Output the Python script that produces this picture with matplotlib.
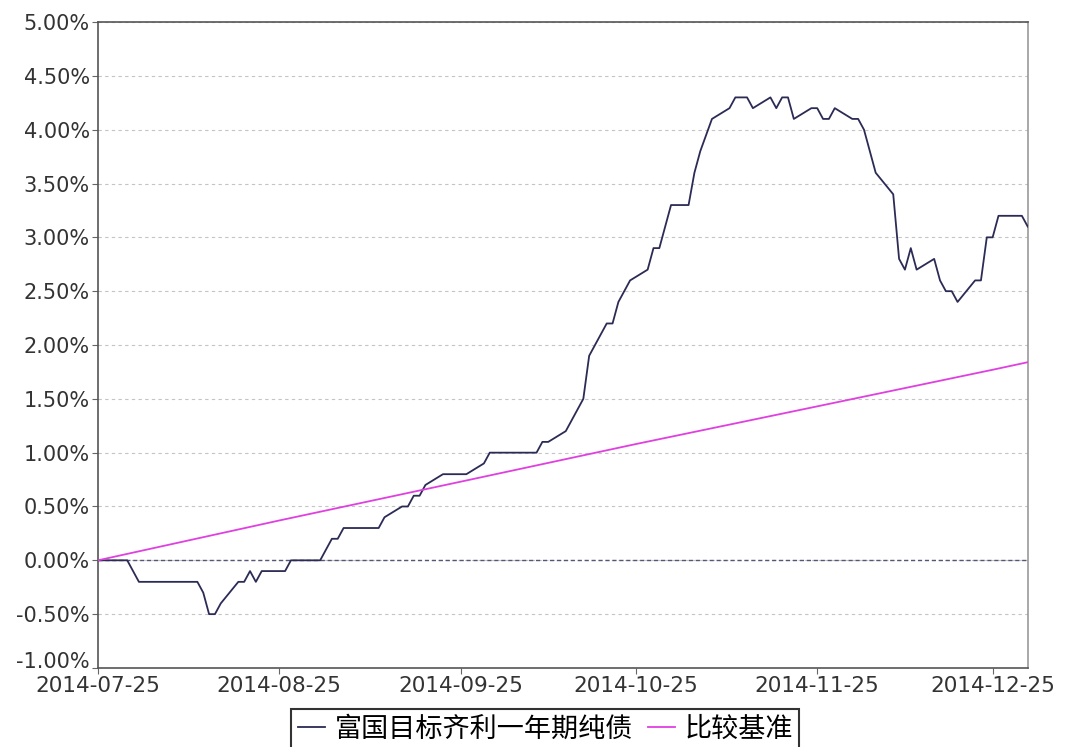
import numpy as np
import pandas as pd
import matplotlib
matplotlib.use("Agg")
from matplotlib import pyplot as plt
import matplotlib.dates as mdates
from matplotlib.ticker import FuncFormatter, MultipleLocator


# fund cumulative return (%)
fund_dates = [
    "2014-07-25", "2014-07-30", "2014-08-01", "2014-08-11", "2014-08-12",
    "2014-08-13", "2014-08-14", "2014-08-15", "2014-08-18", "2014-08-19",
    "2014-08-20", "2014-08-21", "2014-08-22", "2014-08-26", "2014-08-27",
    "2014-09-01", "2014-09-03", "2014-09-04", "2014-09-05", "2014-09-11",
    "2014-09-12", "2014-09-15", "2014-09-16", "2014-09-17", "2014-09-18",
    "2014-09-19", "2014-09-22", "2014-09-26", "2014-09-29", "2014-09-30",
    "2014-10-08", "2014-10-09", "2014-10-10", "2014-10-13", "2014-10-16",
    "2014-10-17", "2014-10-18", "2014-10-20", "2014-10-21", "2014-10-22",
    "2014-10-24", "2014-10-27", "2014-10-28", "2014-10-29", "2014-10-31",
    "2014-11-03", "2014-11-04", "2014-11-05", "2014-11-07", "2014-11-10",
    "2014-11-11", "2014-11-13", "2014-11-14", "2014-11-17", "2014-11-18",
    "2014-11-19", "2014-11-20", "2014-11-21", "2014-11-24", "2014-11-25",
    "2014-11-26", "2014-11-27", "2014-11-28", "2014-12-01", "2014-12-02",
    "2014-12-03", "2014-12-05", "2014-12-08", "2014-12-09", "2014-12-10",
    "2014-12-11", "2014-12-12", "2014-12-15", "2014-12-16", "2014-12-17",
    "2014-12-18", "2014-12-19", "2014-12-22", "2014-12-23", "2014-12-24",
    "2014-12-25", "2014-12-26", "2014-12-30", "2014-12-31",
]
fund_values = [
    0.0, 0.0, -0.2, -0.2, -0.3,
    -0.5, -0.5, -0.4, -0.2, -0.2,
    -0.1, -0.2, -0.1, -0.1, 0.0,
    0.0, 0.2, 0.2, 0.3, 0.3,
    0.4, 0.5, 0.5, 0.6, 0.6,
    0.7, 0.8, 0.8, 0.9, 1.0,
    1.0, 1.1, 1.1, 1.2, 1.5,
    1.9, 2.0, 2.2, 2.2, 2.4,
    2.6, 2.7, 2.9, 2.9, 3.3,
    3.3, 3.6, 3.8, 4.1, 4.2,
    4.3, 4.3, 4.2, 4.3, 4.2,
    4.3, 4.3, 4.1, 4.2, 4.2,
    4.1, 4.1, 4.2, 4.1, 4.1,
    4.0, 3.6, 3.4, 2.8, 2.7,
    2.9, 2.7, 2.8, 2.6, 2.5,
    2.5, 2.4, 2.6, 2.6, 3.0,
    3.0, 3.2, 3.2, 3.1,
]

# benchmark (%)
bench_dates = ["2014-07-25", "2014-08-25", "2014-09-25", "2014-10-25",
               "2014-11-25", "2014-12-25", "2014-12-31"]
bench_values = [0.0, 0.37, 0.73, 1.08, 1.43, 1.77, 1.84]

tick_dates = ["2014-07-25", "2014-08-25", "2014-09-25", "2014-10-25",
              "2014-11-25", "2014-12-25"]

fund_name = "富国目标齐利一年期纯债"
bench_name = "比较基准"

fund_x = pd.to_datetime(fund_dates)
bench_x = pd.to_datetime(bench_dates)

fig = plt.figure(figsize=(10.65, 7.47), dpi=100, facecolor='w')
ax = fig.add_axes([0.092, 0.1058, 0.873, 0.8647])

ax.plot(fund_x, fund_values, color='#2b2b55', linewidth=1.3, label=fund_name, zorder=3)
ax.plot(bench_x, bench_values, color='#e040e0', linewidth=1.3, label=bench_name, zorder=3)

ax.set_xlim(pd.Timestamp("2014-07-25"), pd.Timestamp("2014-12-31"))
ax.set_ylim(-1.0, 5.0)
ax.yaxis.set_major_locator(MultipleLocator(0.5))
ax.yaxis.set_major_formatter(FuncFormatter(lambda v, p: f"{v:.2f}%"))
ax.set_xticks(pd.to_datetime(tick_dates))
ax.xaxis.set_major_formatter(mdates.DateFormatter("%Y-%m-%d"))

ax.grid(axis='y', color='#c4c4c4', linestyle=(0, (3, 3)), linewidth=0.8)
ax.axhline(0, color='#555577', linestyle=(0, (3, 2)), linewidth=1.0, zorder=2)

ax.tick_params(axis='x', labelsize=15.5, pad=2)
ax.tick_params(axis='y', labelsize=15, pad=2)
ax.tick_params(axis='both', labelcolor='#333333', color='#666666',
               length=4, direction='out')
for side in ['left', 'bottom', 'top']:
    ax.spines[side].set_color('#555555')
ax.spines['right'].set_color('#999999')
for s in ax.spines.values():
    s.set_linewidth(1.2)

# the lowest y label sits a little higher, clear of the first date label
fig.canvas.draw()
for lab in ax.get_yticklabels():
    if lab.get_text().startswith("-1.00"):
        lab.set_verticalalignment('baseline')

leg = fig.legend(loc='upper center', bbox_to_anchor=(0.512, 0.0509), ncol=2,
                 prop={'family': ['Noto Sans CJK SC', 'DejaVu Sans'], 'size': 19.5},
                 frameon=True, fancybox=False, handlelength=1.0,
                 handletextpad=0.35, columnspacing=0.55, borderpad=0.25,
                 borderaxespad=0)
leg.get_frame().set_edgecolor('black')
leg.get_frame().set_linewidth(1.5)

fig.savefig("out.png", dpi=100, facecolor='w')
